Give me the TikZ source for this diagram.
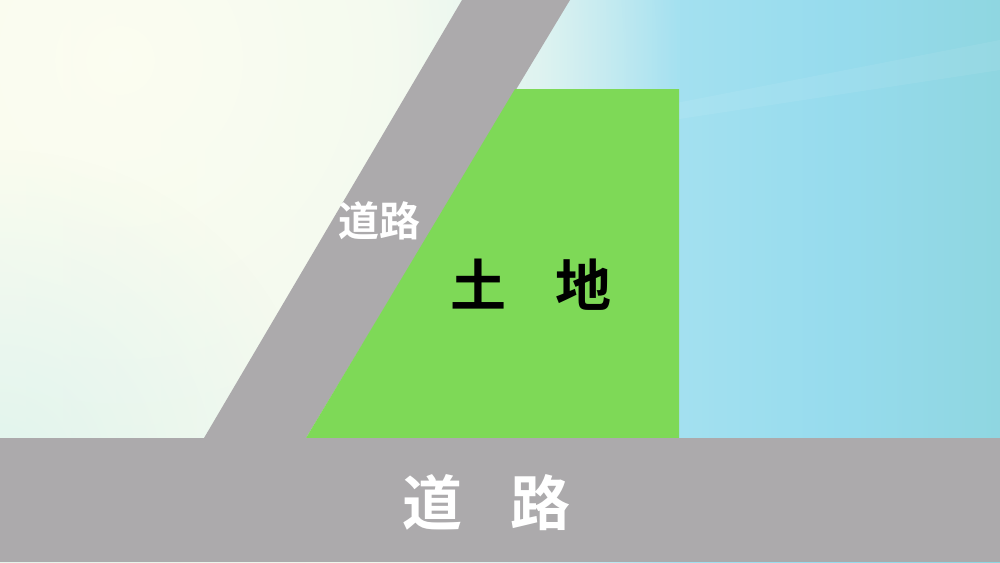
\documentclass[tikz,border=0pt]{standalone}
\usepackage{fontspec}
\newfontfamily\cjk{Noto Sans CJK JP}[BoldFont={Noto Sans CJK JP Bold}]
\usetikzlibrary{fadings}
\definecolor{roadgray}{RGB}{172,170,172}
\definecolor{landgreen}{RGB}{126,217,87}
\definecolor{bgglow}{RGB}{253,254,242}
\definecolor{bgtint}{RGB}{210,240,238}
\pgfdeclarehorizontalshading{bgshade}{100bp}{%
  rgb(0bp)=(0.965,0.98,0.925);
  rgb(25bp)=(0.965,0.98,0.925);
  rgb(45bp)=(0.93,0.97,0.93);
  rgb(52bp)=(0.84,0.94,0.94);
  rgb(59bp)=(0.64,0.88,0.94);
  rgb(67bp)=(0.59,0.86,0.93);
  rgb(75bp)=(0.56,0.84,0.88);
  rgb(100bp)=(0.56,0.84,0.88)}
\tikzfading[name=glowfade, inner color=transparent!0, outer color=transparent!100]
\tikzset{
  road/.style={fill=roadgray, draw=none},
  land/.style={fill=landgreen, draw=none},
  roadlabel/.style={text=white, font=\cjk\bfseries, inner sep=0pt},
  landlabel/.style={text=black, font=\cjk\bfseries, inner sep=0pt}
}
\begin{document}
\begin{tikzpicture}[x=1pt,y=-1pt]
\useasboundingbox (0,0) rectangle (1000,562);
% background
\shade[shading=bgshade] (0,0) rectangle (1000,562);
\fill[bgglow, path fading=glowfade, fill opacity=0.85] (120,60) circle (560);
\fill[bgtint, path fading=glowfade, fill opacity=0.6] (0,470) circle (320);
\fill[white, opacity=0.07] (640,110) -- (1000,40) -- (1000,70) -- (640,125) -- cycle;
% diagonal road
\fill[road] (462,0) -- (570,0) -- (306,438) -- (204,438) -- cycle;
% land
\fill[land] (515,89) -- (679,89) -- (679,438) -- (306,438) -- cycle;
% bottom road
\fill[road] (0,438) rectangle (1000,562);
% labels
\node[roadlabel, font=\cjk\bfseries\fontsize{41}{41}\selectfont] (diag) at (379,221) {道路};
\node[landlabel, font=\cjk\bfseries\fontsize{56}{56}\selectfont] (land) at (531,285) {土\hspace{50pt}地};
\node[roadlabel, font=\cjk\bfseries\fontsize{60}{60}\selectfont] (bottom) at (486,503) {道\hspace{48pt}路};
\end{tikzpicture}
\end{document}
